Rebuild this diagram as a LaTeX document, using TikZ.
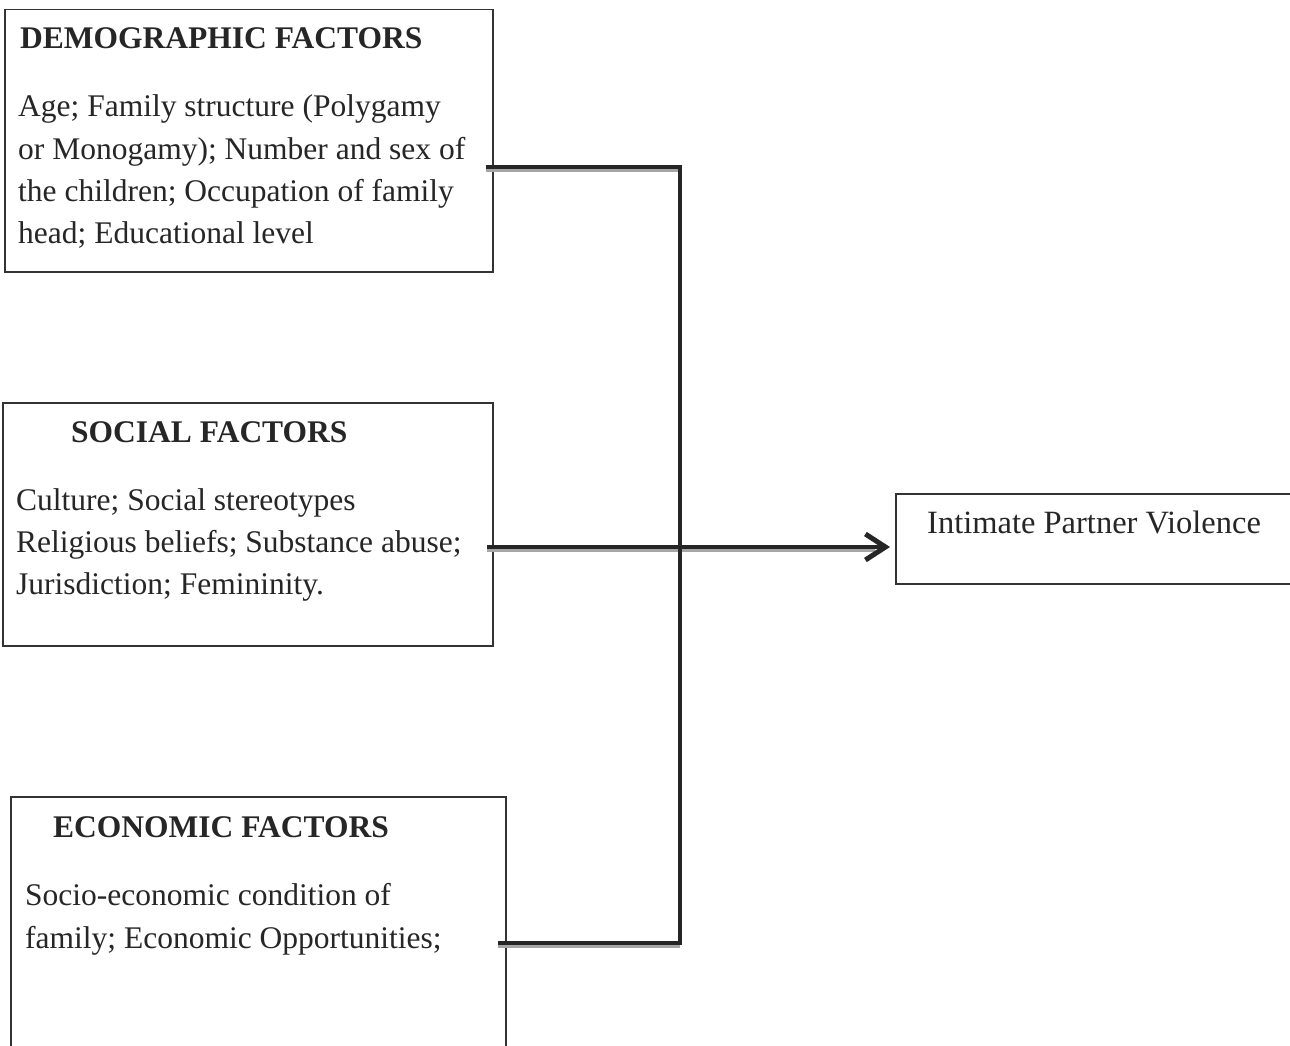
\documentclass[tikz,border=0pt]{standalone}
\usepackage{fontspec}
\setmainfont{Liberation Serif}
\usetikzlibrary{arrows.meta}
\begin{document}
\begin{tikzpicture}[x=1pt,y=1pt,
  box/.style={draw=black!80,line width=1.5pt,rectangle,inner sep=0pt,anchor=north west},
  txt/.style={anchor=base west,inner sep=0pt,font=\fontsize{31.5}{42}\selectfont,text=black!85},
  ttl/.style={txt,font=\fontsize{31.5}{42}\selectfont\bfseries},
  conn/.style={draw=black!85,line width=4.5pt},
  shadow/.style={draw=black!35,line width=3pt}]
\useasboundingbox (0,0) rectangle (1290,-1046);
\clip (0,0) rectangle (1290,-1046);
\fill[white] (0,0) rectangle (1290,-1046);
% boxes
\node[box,minimum width=488pt,minimum height=262pt] (demo) at (4,-9) {};
\node[box,minimum width=490pt,minimum height=243pt] (soc) at (2,-402) {};
\node[box,minimum width=495pt,minimum height=300pt] (eco) at (10,-796) {};
\node[box,minimum width=410pt,minimum height=90pt] (ipv) at (895,-493) {};
% texts
\node[ttl] (dt) at (20,-49) {DEMOGRAPHIC FACTORS};
\node[txt] (d1) at (18,-117) {Age; Family structure (Polygamy};
\node[txt] (d2) at (18,-159) {or Monogamy); Number and sex of};
\node[txt] (d3) at (18,-201) {the children; Occupation of family};
\node[txt] (d4) at (18,-243) {head; Educational level};
\node[ttl] (st) at (71,-442) {SOCIAL FACTORS};
\node[txt] (s1) at (16,-510) {Culture; Social stereotypes};
\node[txt] (s2) at (16,-552) {Religious beliefs; Substance abuse;};
\node[txt] (s3) at (16,-594) {Jurisdiction; Femininity.};
\node[ttl] (et) at (53,-837) {ECONOMIC FACTORS};
\node[txt] (e1) at (25,-905) {Socio-economic condition of};
\node[txt] (e2) at (25,-948) {family; Economic Opportunities;};
\node[txt,font=\fontsize{32.5}{42}\selectfont] (it) at (927,-533) {Intimate Partner Violence};
% connectors
\coordinate (j1) at (680,-167);
\coordinate (j3) at (680,-943);
\coordinate (a1) at (487,-547);
\coordinate (d0) at (486,-167);
\coordinate (e0) at (498,-943);
\draw[shadow] ([yshift=-3pt]d0) -- ([yshift=-3pt]j1);
\draw[shadow] ([yshift=-3pt]e0) -- ([yshift=-3pt]j3);
\draw[shadow] ([yshift=-3pt]a1) -- ([yshift=-3pt,xshift=-20pt]ipv.west |- a1);
\draw[conn,line join=miter] (d0) -- (j1) -- (j3) -- (e0);
\draw[conn,-{Straight Barb[length=20pt,width=26pt,line width=5pt]}] (a1) -- ([xshift=-5pt]ipv.west |- a1);
\end{tikzpicture}
\end{document}
